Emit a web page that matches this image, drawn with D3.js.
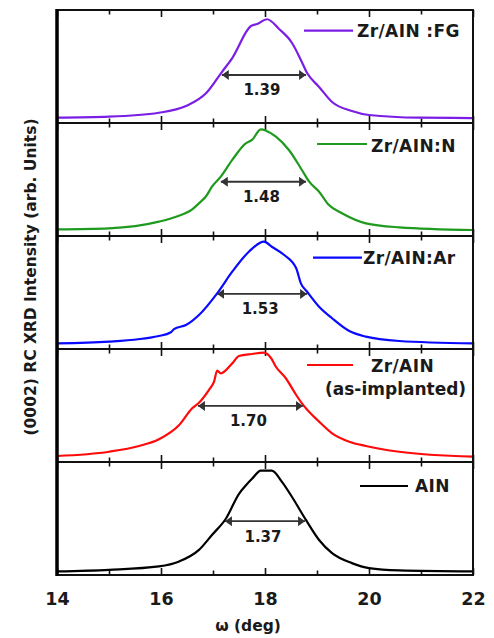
<!DOCTYPE html>
<html><head><meta charset="utf-8">
<script src="https://cdn.jsdelivr.net/npm/d3@7"></script>
<style>
body{margin:0;background:#fff;}
text{font-family:"DejaVu Sans",sans-serif;font-weight:bold;fill:#1a1a1a;}
</style></head><body><svg id="c" width="494" height="638"></svg>
<script>
// ---------- data ----------
const xTickValues = [14, 16, 18, 20, 22];
const xMinorTickValues = [15, 17, 19, 21];
const sampleNames = ["Zr/AIN :FG", "Zr/AIN:N", "Zr/AIN:Ar", "Zr/AIN", "AIN"];
const sampleSubtitles = ["", "", "", "(as-implanted)", ""];
const sampleColors = ["#7a1ee6", "#1e9a1e", "#0a0aff", "#ff0a0a", "#000000"];

const omegaFG = [14, 15, 15.96, 16.48, 16.87, 17.17, 17.37, 17.73, 17.85, 18.04, 18.27, 18.52, 18.69, 18.81, 19.04, 19.29, 19.67, 20, 20.96, 22];
const intensityFG = [0.047, 0.056, 0.091, 0.15, 0.265, 0.451, 0.575, 0.858, 0.876, 0.918, 0.832, 0.708, 0.558, 0.442, 0.319, 0.186, 0.106, 0.071, 0.047, 0.044];

const omegaN = [14, 15, 15.96, 16.29, 16.6, 16.73, 16.87, 16.98, 17.15, 17.37, 17.63, 17.75, 17.92, 18.02, 18.21, 18.46, 18.71, 18.85, 19.04, 19.23, 19.48, 19.94, 20.58, 22];
const intensityN = [0.059, 0.068, 0.127, 0.171, 0.236, 0.289, 0.354, 0.436, 0.525, 0.673, 0.82, 0.85, 0.944, 0.932, 0.879, 0.761, 0.584, 0.481, 0.392, 0.274, 0.201, 0.112, 0.077, 0.053];

const omegaAr = [14, 15, 15.96, 16.19, 16.25, 16.48, 16.73, 17.08, 17.37, 17.69, 17.98, 18.13, 18.37, 18.6, 18.69, 18.81, 19.04, 19.29, 19.62, 19.94, 20.58, 22];
const intensityAr = [0.05, 0.065, 0.115, 0.148, 0.176, 0.212, 0.301, 0.493, 0.684, 0.861, 0.95, 0.905, 0.832, 0.714, 0.581, 0.507, 0.374, 0.272, 0.159, 0.109, 0.071, 0.05];

const omegaImpl = [14, 15, 15.58, 15.96, 16.35, 16.6, 16.73, 16.92, 17.02, 17.08, 17.15, 17.37, 17.5, 17.75, 17.98, 18.12, 18.21, 18.4, 18.6, 18.71, 19.04, 19.29, 19.62, 19.94, 20.58, 22];
const intensityImpl = [0.053, 0.091, 0.142, 0.201, 0.327, 0.475, 0.525, 0.637, 0.711, 0.808, 0.785, 0.873, 0.938, 0.956, 0.968, 0.918, 0.843, 0.741, 0.593, 0.519, 0.357, 0.254, 0.18, 0.142, 0.091, 0.047];

const omegaAlN = [14, 15, 15.96, 16.35, 16.73, 16.98, 17.25, 17.5, 17.63, 17.75, 17.92, 18.13, 18.33, 18.52, 18.79, 19.04, 19.29, 19.67, 20, 20.58, 22];
const intensityAlN = [0.032, 0.046, 0.076, 0.12, 0.222, 0.354, 0.5, 0.719, 0.792, 0.851, 0.924, 0.924, 0.822, 0.69, 0.485, 0.31, 0.193, 0.105, 0.061, 0.041, 0.032];

const fwhmLabels = ["1.39", "1.48", "1.53", "1.70", "1.37"];
const fwhmStart = [17.17, 17.15, 17.08, 16.71, 17.23];
const fwhmEnd = [18.79, 18.79, 18.81, 18.73, 18.77];
const fwhmLevel = [0.425, 0.48, 0.487, 0.496, 0.476];

const seriesOmega = [omegaFG, omegaN, omegaAr, omegaImpl, omegaAlN];
const seriesIntensity = [intensityFG, intensityN, intensityAr, intensityImpl, intensityAlN];

// ---------- layout ----------
const plotLeft = 57, plotRight = 473, plotTop = 10, plotBottom = 575;
const legendLayout = [
  {x1: 304, x2: 353, ly: 20.7, tx: 357, ty: 26.7},
  {x1: 317, x2: 367, ly: 21, tx: 371, ty: 28.7},
  {x1: 313, x2: 362, ly: 21.7, tx: 363, ty: 28.3},
  {x1: 307, x2: 353, ly: 16, tx: 371, ty: 22.7, sx: 325, sy: 46},
  {x1: 360, x2: 408, ly: 24, tx: 415, ty: 29.5}
];

const svg = d3.select("#c");
const x = d3.scaleLinear().domain([14, 22]).range([plotLeft, plotRight]);
const band = d3.scaleBand().domain(d3.range(sampleNames.length)).range([plotTop, plotBottom]);

const defs = svg.append("defs");
defs.append("marker").attr("id", "ah").attr("viewBox", "0 -5 7 10")
  .attr("refX", 7).attr("refY", 0).attr("markerUnits", "userSpaceOnUse")
  .attr("markerWidth", 7).attr("markerHeight", 10).attr("orient", "auto-start-reverse")
  .append("path").attr("d", "M0,-5L7,0L0,5Z").attr("fill", "#333");

sampleNames.forEach((name, i) => {
  const top = band(i), bot = top + band.bandwidth();
  const y = d3.scaleLinear().domain([0, 1]).range([bot, top]);
  const g = svg.append("g");

  // ticks bottom (inward)
  const ab = g.append("g").attr("transform", `translate(0,${bot})`)
    .call(d3.axisBottom(x).tickValues(xTickValues).tickSizeInner(-7).tickSizeOuter(0)
      .tickPadding(18).tickFormat(i === sampleNames.length - 1 ? d3.format("d") : ""));
  ab.select(".domain").remove();
  ab.selectAll("text").style("font-size", "17.5px").attr("fill", "#1a1a1a");
  const abm = g.append("g").attr("transform", `translate(0,${bot})`)
    .call(d3.axisBottom(x).tickValues(xMinorTickValues).tickSizeInner(-4.5).tickSizeOuter(0).tickFormat(""));
  abm.select(".domain").remove();
  // ticks top (inward)
  const at = g.append("g").attr("transform", `translate(0,${top})`)
    .call(d3.axisTop(x).tickValues(xTickValues).tickSizeInner(-7).tickSizeOuter(0).tickFormat(""));
  at.select(".domain").remove();
  const atm = g.append("g").attr("transform", `translate(0,${top})`)
    .call(d3.axisTop(x).tickValues(xMinorTickValues).tickSizeInner(-4.5).tickSizeOuter(0).tickFormat(""));
  atm.select(".domain").remove();
  g.selectAll(".tick line").attr("stroke", "#111").attr("stroke-width", 1.6);

  // curve
  const pts = seriesOmega[i].map((w, k) => [w, seriesIntensity[i][k]]);
  g.append("path").datum(pts)
    .attr("d", d3.line().x(d => x(d[0])).y(d => y(d[1])).curve(d3.curveMonotoneX))
    .attr("fill", "none").attr("stroke", sampleColors[i]).attr("stroke-width", 2.2)
    .attr("stroke-linejoin", "round");

  // frame
  g.append("rect").attr("x", plotLeft).attr("y", top).attr("width", plotRight - plotLeft)
    .attr("height", bot - top).attr("fill", "none").attr("stroke", "#111").attr("stroke-width", 2);

  // FWHM arrow
  g.append("line").attr("x1", x(fwhmStart[i])).attr("x2", x(fwhmEnd[i]))
    .attr("y1", y(fwhmLevel[i])).attr("y2", y(fwhmLevel[i]))
    .attr("stroke", "#333").attr("stroke-width", 1.8)
    .attr("marker-start", "url(#ah)").attr("marker-end", "url(#ah)");
  g.append("text").attr("x", (x(fwhmStart[i]) + x(fwhmEnd[i])) / 2 - 2)
    .attr("y", y(fwhmLevel[i]) + 20.5).attr("text-anchor", "middle")
    .style("font-size", "15px").text(fwhmLabels[i]);

  // legend
  const L = legendLayout[i];
  g.append("line").attr("x1", L.x1).attr("x2", L.x2).attr("y1", top + L.ly).attr("y2", top + L.ly)
    .attr("stroke", sampleColors[i]).attr("stroke-width", 2.2);
  g.append("text").attr("x", L.tx).attr("y", top + L.ty).style("font-size", "17px")
    .style("letter-spacing", "0.4px").text(name);
  if (sampleSubtitles[i]) {
    g.append("text").attr("x", L.sx).attr("y", top + L.sy).style("font-size", "17px")
      .text(sampleSubtitles[i]);
  }
});

// thick left axis
svg.append("line").attr("x1", plotLeft).attr("x2", plotLeft).attr("y1", plotTop - 1).attr("y2", plotBottom + 1)
  .attr("stroke", "#000").attr("stroke-width", 3.5);

// axis titles
svg.append("text").attr("transform", "translate(36,277) rotate(-90)").attr("text-anchor", "middle")
  .style("font-size", "15.5px").text("(0002) RC XRD Intensity (arb. Units)");
svg.append("text").attr("x", 248).attr("y", 631).attr("text-anchor", "middle")
  .style("font-size", "15.5px").text("ω (deg)");
</script></body></html>
